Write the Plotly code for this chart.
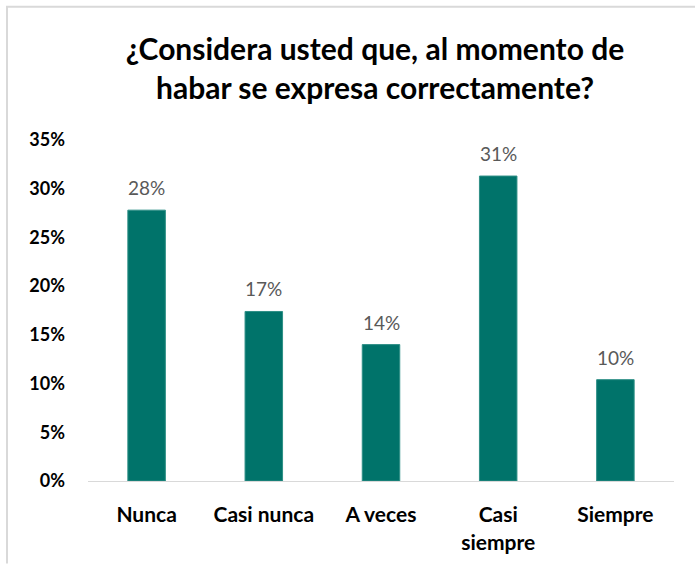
import plotly.graph_objects as go

categorias = ["Nunca", "Casi nunca", "A veces", "Casi<br>siempre", "Siempre"]
porcentajes = [0.278, 0.174, 0.14, 0.313, 0.104]
titulo = "¿Considera usted que, al momento de<br>habar se expresa correctamente?"

W, H = 695, 566
ml, mr, mt, mb = 88, 21, 140, 83
pw, ph = W - ml - mr, H - mt - mb

fig = go.Figure(go.Bar(
    x=categorias, y=porcentajes,
    marker=dict(color="#00736A", line=dict(color="#2E8F86", width=1)),
    width=0.32,
))

# etiquetas de datos
for c, v in zip(categorias, porcentajes):
    fig.add_annotation(x=c, y=v, text=f"{v:.0%}", showarrow=False,
                       yanchor="bottom", yshift=9,
                       font=dict(family="Lato", size=19, color="#595959"))

fig.update_layout(
    width=W, height=H,
    margin=dict(l=ml, r=mr, t=mt, b=mb),
    paper_bgcolor="white", plot_bgcolor="white",
    showlegend=False,
    title=dict(text=titulo, x=375 / W, xanchor="center", y=1 - 60 / H, yanchor="middle",
               font=dict(family="Lato", size=30, color="black", weight="bold")),
    font=dict(family="Lato"),
)
fig.update_xaxes(showline=True, linecolor="#D9D9D9", linewidth=1, ticks="",
                 ticklabelstandoff=15,
                 tickfont=dict(family="Lato", size=21, color="black", weight="bold"))
fig.update_yaxes(range=[0, 0.35], dtick=0.05, tickformat=".0%", showgrid=False,
                 zeroline=False, showline=False, ticks="", ticklabelstandoff=22,
                 tickfont=dict(family="Lato", size=18, color="black", weight="bold"))

# marco del grafico (arriba e izquierda)
borde = dict(color="#D9D9D9", width=2)
fig.add_shape(type="line", xref="paper", yref="paper",
              x0=(6 - ml) / pw, x1=(W - ml) / pw,
              y0=1 + (mt - 6) / ph, y1=1 + (mt - 6) / ph, line=borde)
fig.add_shape(type="line", xref="paper", yref="paper",
              x0=(7 - ml) / pw, x1=(7 - ml) / pw,
              y0=1 + (mt - 6) / ph, y1=-(H - mt - ph) / ph, line=borde)

fig.write_html("out.html", config={"displayModeBar": False},
               post_script="document.body.style.margin='0';")
